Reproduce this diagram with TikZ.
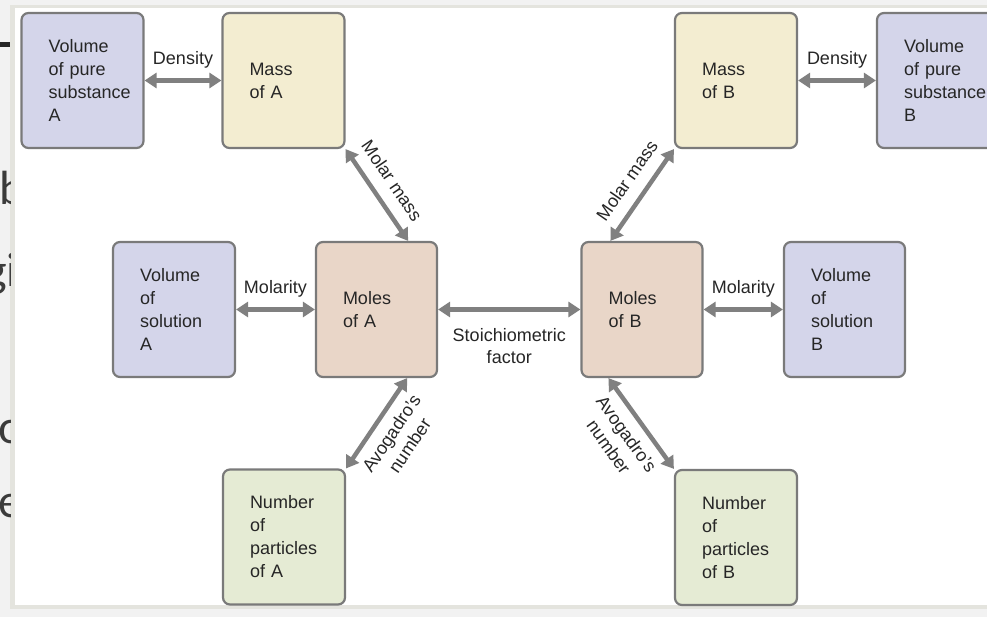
\documentclass[tikz,border=0pt]{standalone}
\usepackage{fontspec}
\setmainfont{Liberation Sans}
\newfontfamily\bigfont{Carlito}
\usetikzlibrary{arrows.meta,calc}
\definecolor{lav}{RGB}{212,213,234}
\definecolor{yel}{RGB}{243,237,209}
\definecolor{peach}{RGB}{233,214,200}
\definecolor{grn}{RGB}{229,235,212}
\definecolor{boxline}{RGB}{122,122,122}
\definecolor{arrowgray}{RGB}{128,128,128}
\definecolor{txt}{RGB}{38,38,38}
\definecolor{outer}{RGB}{242,242,242}
\definecolor{frame}{RGB}{228,228,222}
\hyphenpenalty=10000
\exhyphenpenalty=10000
\begin{document}
\begin{tikzpicture}[x=1pt,y=-1pt,
  box/.style={draw=boxline, line width=2.2pt, rounded corners=7pt,
    minimum height=135pt, inner xsep=27pt, inner ysep=0pt,
    text width=#1, align=left, text=txt,
    font=\fontsize{18}{23}\selectfont},
  conn/.style={draw=arrowgray, line width=4.5pt,
    {Triangle[width=15pt,length=12pt]}-{Triangle[width=15pt,length=12pt]}},
  lab/.style={text=txt, inner sep=0pt, font=\fontsize{18}{22}\selectfont, align=center},
  bigtxt/.style={anchor=base west, inner sep=0pt, text=txt!90!white,
    font=\bigfont\fontsize{48}{58}\selectfont}]
\useasboundingbox (0,0) rectangle (987,617);
\clip (0,0) rectangle (987,617);
% background and panel
\fill[outer] (0,0) rectangle (987,617);
\fill[frame] (10,5) rectangle (995,609);
\fill[white] (15,8) rectangle (995,605);
\fill[txt] (0,42) rectangle (10,47);
\begin{scope}
  \clip (0,0) rectangle (10,617);
  \node[bigtxt] (lb) at (-1,205) {b};
  \node[bigtxt] (lgi) at (-16,287) {gi};
  \node[bigtxt] (lo) at (-2,443) {o};
  \node[bigtxt] (le) at (-2,517) {e};
\end{scope}
% boxes
\node[box=68pt, fill=lav] (VA) at (82.5,80.5) {Volume\\of pure\\substance\\A};
\node[box=68pt, fill=yel] (MA) at (283.5,80.5) {Mass\\of A};
\node[box=68pt, fill=yel] (MB) at (736,80.5) {Mass\\of B};
\node[box=68pt, fill=lav] (VB) at (938,80.5) {Volume\\of pure\\substance\\B};
\node[box=68pt, fill=lav] (SA) at (174,309.5) {Volume\\of\\solution\\A};
\node[box=67pt, fill=peach] (NA) at (376.5,309.5) {Moles\\of A};
\node[box=67pt, fill=peach] (NB) at (642,309.5) {Moles\\of B};
\node[box=67pt, fill=lav] (SB) at (844.5,309.5) {Volume\\of\\solution\\B};
\node[box=68pt, fill=grn] (PA) at (284,537) {Number\\of\\particles\\of A};
\node[box=68pt, fill=grn] (PB) at (736,537.5) {Number\\of\\particles\\of B};
% horizontal connectors
\draw[conn] (VA) -- node[lab, midway, anchor=base, yshift=16pt] {Density} (MA);
\draw[conn] (MB) -- node[lab, midway, anchor=base, yshift=16pt] {Density} (VB);
\draw[conn] (SA) -- node[lab, midway, anchor=base, yshift=16pt] {Molarity} (NA);
\draw[conn] (NB) -- node[lab, midway, anchor=base, yshift=16pt] {Molarity} (SB);
\draw[conn] (NA) -- node[lab, midway, anchor=north, yshift=-17pt] {Stoichiometric\\factor} (NB);
% diagonal connectors
\draw[conn] (MA.south east) -- node[lab, pos=0.47, sloped, anchor=south, inner ysep=12pt] {Molar mass} ([xshift=-30pt]NA.north east);
\draw[conn] ([xshift=30pt]NB.north west) -- node[lab, pos=0.53, sloped, anchor=south, inner ysep=12pt] {Molar mass} (MB.south west);
\draw[conn] (PA.north east) -- node[lab, midway, sloped, anchor=north, inner ysep=9pt] {Avogadro's\\number} ([xshift=-31pt]NA.south east);
\draw[conn] ([xshift=28pt]NB.south west) -- node[lab, midway, sloped, anchor=north, inner ysep=9pt] {Avogadro's\\number} (PB.north west);
\end{tikzpicture}
\end{document}
